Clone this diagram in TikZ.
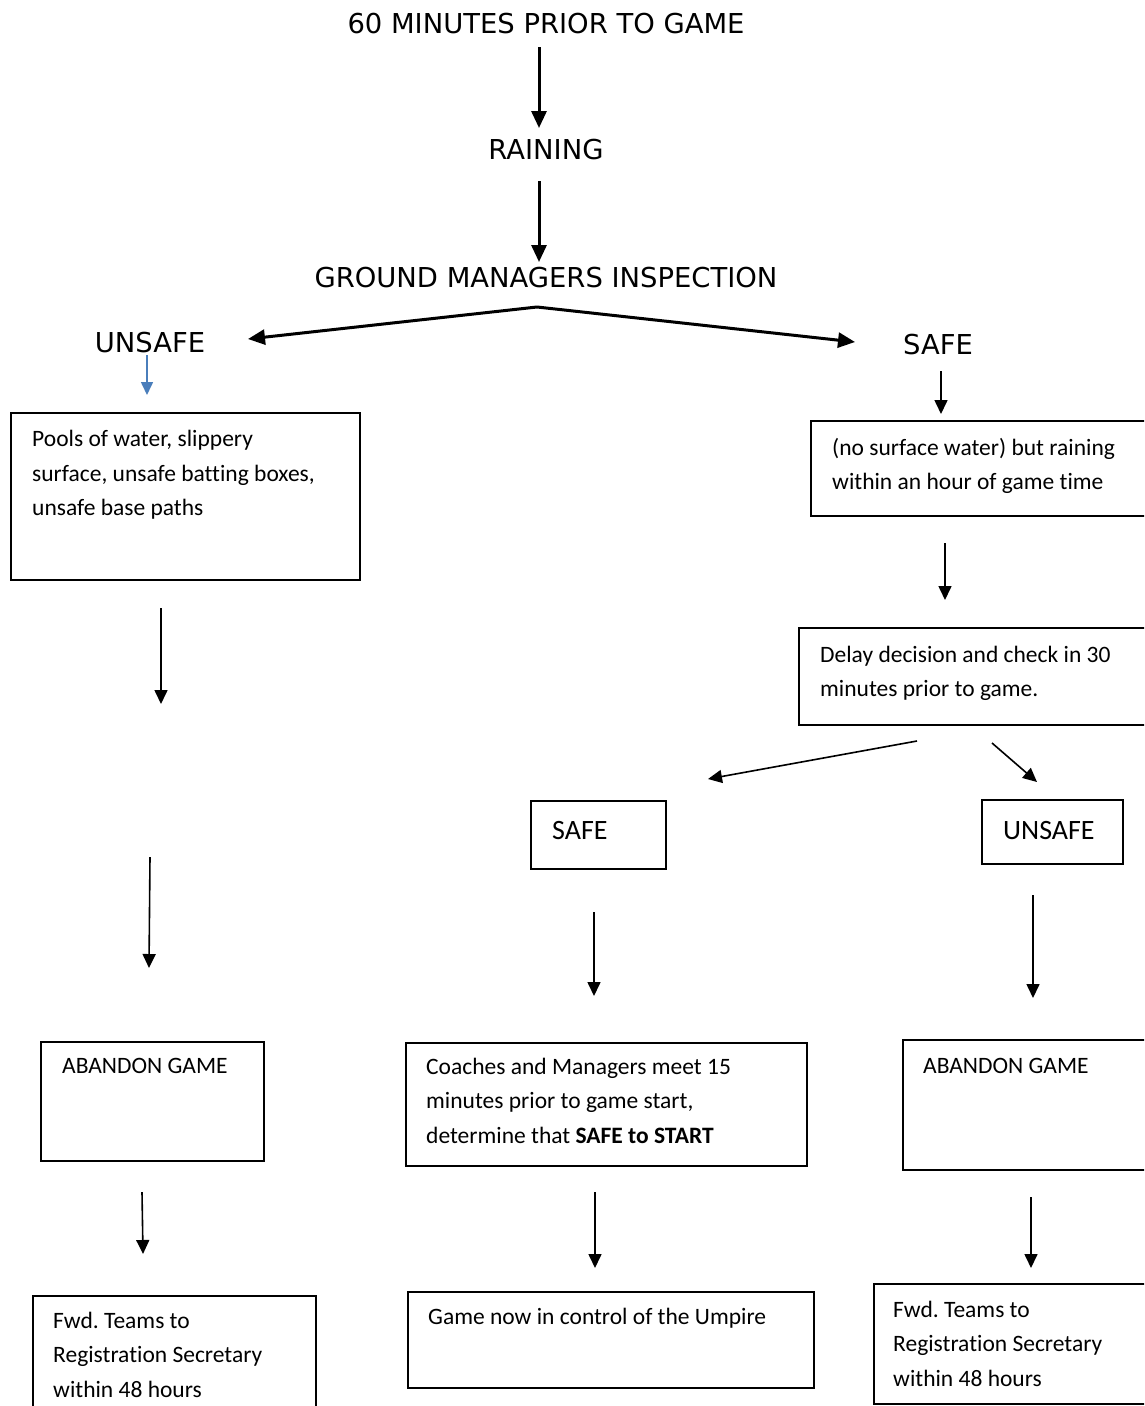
\documentclass[tikz,border=0pt]{standalone}
\usepackage{fontspec}
\setmainfont{Carlito}[Ligatures=NoCommon]
\newfontfamily\topfont{DejaVu Sans}
\usetikzlibrary{arrows.meta}
\definecolor{arrblue}{RGB}{74,126,187}
\frenchspacing
\begin{document}
\begin{tikzpicture}[x=1pt,y=-1pt,
  box/.style={draw, line width=2pt, anchor=north west, inner sep=0pt},
  btext/.style={anchor=base west, inner sep=0pt, font=\fontsize{23.5}{34.5}\selectfont},
  bigtext/.style={anchor=base west, inner sep=0pt, font=\fontsize{28}{34}\selectfont},
  toptext/.style={anchor=base, inner sep=0pt, font=\topfont\fontsize{27.4}{33}\selectfont},
  bigarr/.style={line width=3pt, -{Triangle[width=15pt,length=17pt]}},
  arr/.style={line width=1.6pt, -{Triangle[width=13pt,length=14pt]}},
  bluearr/.style={draw=arrblue, line width=1.6pt, -{Triangle[width=12pt,length=13pt]}}]
\useasboundingbox (0,0) rectangle (1144,1406);
\clip (0,0) rectangle (1144,1406);

% top labels
\node[toptext] (t60) at (546,33) {60 MINUTES PRIOR TO GAME};
\node[toptext] (train) at (546,159) {RAINING};
\node[toptext] (tground) at (546,287) {GROUND MANAGERS INSPECTION};
\node[toptext] (tunsafe) at (150,352) {UNSAFE};
\node[toptext] (tsafe) at (938,354) {SAFE};

% boxes
\node[box, minimum width=349, minimum height=167] (b1) at (10,412) {};
\node[btext] (b1t) at (32,446.5) {\vtop{\hbox{Pools of water, slippery}\hbox{surface, unsafe batting boxes,}\hbox{unsafe base paths}}};

\node[box, minimum width=345, minimum height=95] (b2) at (810,420) {};
\node[btext] (b2t) at (832,455) {\vtop{\hbox{(no surface water) but raining}\hbox{within an hour of game time}}};

\node[box, minimum width=357, minimum height=97] (b3) at (798,627) {};
\node[btext] (b3t) at (820,662) {\vtop{\hbox{Delay decision and check in 30}\hbox{minutes prior to game.}}};

\node[box, minimum width=135, minimum height=68] (bsafe) at (530,800) {};
\node[bigtext] (bsafet) at (552,839) {SAFE};

\node[box, minimum width=141, minimum height=64] (bunsafe) at (981,799) {};
\node[bigtext] (bunsafet) at (1003,839) {UNSAFE};

\node[box, minimum width=223, minimum height=119] (bab1) at (40,1041) {};
\node[btext] (bab1t) at (62,1073) {ABANDON GAME};

\node[box, minimum width=401, minimum height=123] (bcoach) at (405,1042) {};
\node[btext] (bcoacht) at (426,1074) {\vtop{\hbox{Coaches and Managers meet 15}\hbox{minutes prior to game start,}\hbox{determine that \textbf{SAFE to START}}}};

\node[box, minimum width=250, minimum height=130] (bab2) at (902,1039) {};
\node[btext] (bab2t) at (923,1073) {ABANDON GAME};

\node[box, minimum width=283, minimum height=130] (bfwd1) at (32,1295) {};
\node[btext] (bfwd1t) at (53,1328) {\vtop{\hbox{Fwd. Teams to}\hbox{Registration Secretary}\hbox{within 48 hours}}};

\node[box, minimum width=406, minimum height=96] (bgame) at (407,1291) {};
\node[btext] (bgamet) at (428,1324) {Game now in control of the Umpire};

\node[box, minimum width=280, minimum height=120] (bfwd2) at (873,1283) {};
\node[btext] (bfwd2t) at (893,1317) {\vtop{\hbox{Fwd. Teams to}\hbox{Registration Secretary}\hbox{within 48 hours}}};

% connector end points
\coordinate (a1s) at (539,47);   \coordinate (a1e) at (539,128);
\coordinate (a2s) at (539,181);  \coordinate (a2e) at (539,262);
\coordinate (apex) at (537,307);
\coordinate (brl) at (248,339);  \coordinate (brr) at (855,342);
\coordinate (bls) at (147,355);  \coordinate (ble) at (147,395);
\coordinate (s1s) at (941,371);  \coordinate (s1e) at (941,414);
\coordinate (s2s) at (945,543);  \coordinate (s2e) at (945,600);
\coordinate (d1s) at (917,741);  \coordinate (d1e) at (708,779);
\coordinate (d2s) at (992,743);  \coordinate (d2e) at (1037,782);
\coordinate (l1s) at (161,608);  \coordinate (l1e) at (161,704);
\coordinate (l2s) at (150,857);  \coordinate (l2e) at (149,968);
\coordinate (l3s) at (142,1192); \coordinate (l3e) at (143,1254);
\coordinate (m1s) at (594,912);  \coordinate (m1e) at (594,996);
\coordinate (m2s) at (595,1192); \coordinate (m2e) at (595,1268);
\coordinate (r1s) at (1033,895); \coordinate (r1e) at (1033,998);
\coordinate (r2s) at (1031,1197);\coordinate (r2e) at (1031,1268);

% connectors
\draw[bigarr] (a1s) -- (a1e);
\draw[bigarr] (a2s) -- (a2e);
\draw[bigarr] (apex) -- (brl);
\draw[bigarr] (apex) -- (brr);
\draw[bluearr] (bls) -- (ble);
\draw[arr] (s1s) -- (s1e);
\draw[arr] (s2s) -- (s2e);
\draw[arr] (d1s) -- (d1e);
\draw[arr] (d2s) -- (d2e);
\draw[arr] (l1s) -- (l1e);
\draw[arr] (l2s) -- (l2e);
\draw[arr] (l3s) -- (l3e);
\draw[arr] (m1s) -- (m1e);
\draw[arr] (m2s) -- (m2e);
\draw[arr] (r1s) -- (r1e);
\draw[arr] (r2s) -- (r2e);
\end{tikzpicture}
\end{document}
